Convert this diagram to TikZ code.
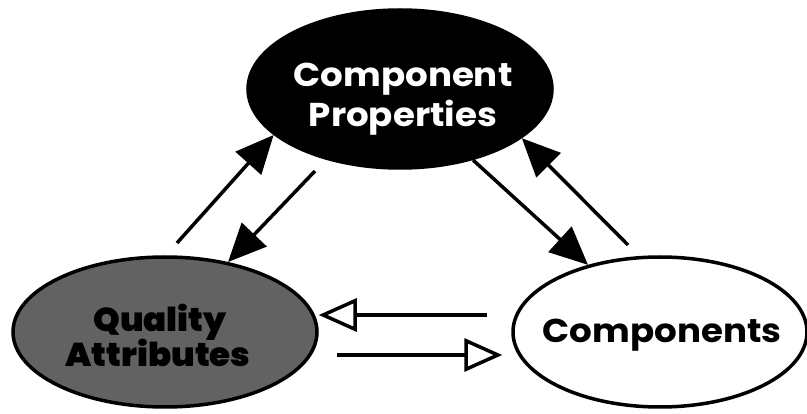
\documentclass[tikz,border=0pt]{standalone}
\usepackage{fontspec}
\setmainfont{Poppins}
\newfontfamily\labelfont{Poppins}[FakeStretch=1.08]
\IfFontExistsTF{Poppins Black}
  {\newfontfamily\heavyfont{Poppins Black}[FakeStretch=1.03]}
  {\newcommand\heavyfont{\labelfont\bfseries}}
\usetikzlibrary{arrows.meta,shapes.geometric}
\definecolor{qgray}{RGB}{98,98,98}
\tikzset{
  bubble/.style={ellipse, draw=black, line width=3.5pt, inner sep=0pt},
  caption/.style={anchor=base, inner sep=0pt, font=\labelfont\bfseries\fontsize{33}{40}\selectfont},
  heavycaption/.style={anchor=base, inner sep=0pt, font=\heavyfont\fontsize{33}{40}\selectfont},
  solidarrow/.style={line width=3.5pt, -{Triangle[length=38pt, width=34pt]}},
  openarrow/.style={line width=3.5pt, -{Triangle[open, length=38pt, width=33pt, line width=3.5pt]}}
}
\begin{document}
\begin{tikzpicture}[x=1pt, y=-1pt]
\useasboundingbox[fill=white] (0,0) rectangle (807,414);

% the three ellipses
\node[bubble, fill=black, minimum width=304pt, minimum height=158pt] (props) at (400,89) {};
\node[bubble, fill=qgray, minimum width=304pt, minimum height=150pt] (quality) at (165,332) {};
\node[bubble, fill=white, minimum width=294pt, minimum height=150pt] (comps) at (660,332) {};

% their captions
\node[caption, text=white] (propsA) at (403,87) {Component};
\node[caption, text=white] (propsB) at (403,127) {Properties};
\node[heavycaption] (qualA) at (160,332) {Quality};
\node[heavycaption] (qualB) at (158,367) {Attributes};
\node[caption] (compsA) at (662,343) {Components};

% free ends of the connectors
\coordinate (q2p) at (177,243);
\coordinate (p2q) at (315,171);
\coordinate (p2c) at (473,160);
\coordinate (c2p) at (628,245);
\coordinate (c2q) at (487,315);
\coordinate (q2c) at (337,355);

\draw[solidarrow] (q2p) -- (props.200);
\draw[solidarrow] (p2q) -- (quality.48);
\draw[solidarrow] (p2c) -- (comps.137);
\draw[solidarrow] (c2p) -- (props.-22);
\draw[openarrow] (c2q) -- (quality.east |- c2q);
\draw[openarrow, shorten >=9pt] (q2c) -- (comps.west |- q2c);
\end{tikzpicture}
\end{document}
